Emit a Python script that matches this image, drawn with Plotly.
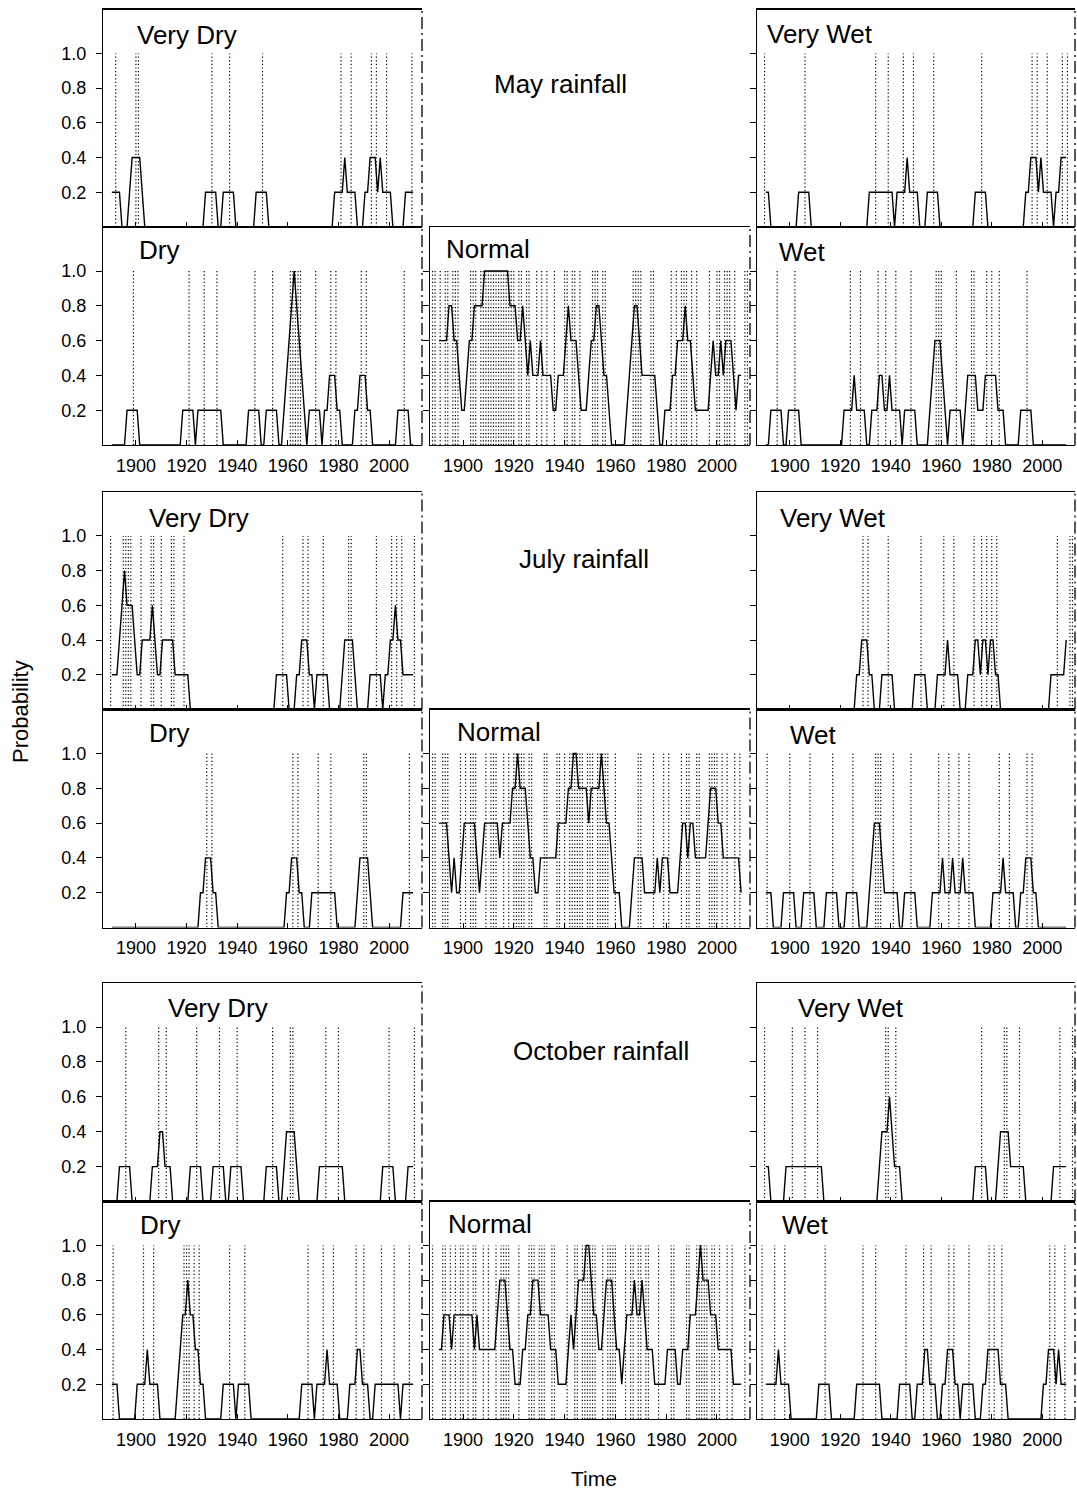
import plotly.graph_objects as go

FONT = "Liberation Sans, Arial, Helvetica, sans-serif"
W, H = 1077, 1493

# ------------------------------------------------------------------ data
TICK_YEARS = [1900, 1920, 1940, 1960, 1980, 2000]
PROB_TICKS = [0.2, 0.4, 0.6, 0.8, 1.0]
PROB_TICK_TEXT = ["0.2", "0.4", "0.6", "0.8", "1.0"]
MA_YEARS = list(range(1891, 2011))

# ---------------- May
MAY_VD_EVENTS = [1892, 1900, 1901, 1930, 1937, 1950, 1981, 1985, 1993, 1995, 1999, 2009]
MAY_VD_YRS = [1891, 1894, 1895, 1897, 1899, 1902, 1904, 1927, 1928, 1932, 1933, 1934, 1935, 1939, 1940,
              1947, 1948, 1952, 1953, 1978, 1979, 1982, 1983, 1984, 1987, 1988, 1990, 1991, 1992, 1993,
              1995, 1996, 1997, 1998, 2001, 2002, 2006, 2007, 2010]
MAY_VD_P = [.2, .2, 0, 0, .4, .4, 0, 0, .2, .2, 0, 0, .2, .2, 0,
            0, .2, .2, 0, 0, .2, .2, .4, .2, .2, 0, 0, .2, .2, .4,
            .4, .2, .4, .2, .2, 0, 0, .2, .2]

MAY_VW_EVENTS = [1890, 1906, 1934, 1939, 1945, 1949, 1957, 1976, 1996, 1998, 2002, 2008, 2010]
MAY_VW_YRS = [1891, 1892, 1893, 1903, 1904, 1908, 1909, 1931, 1932, 1941, 1942, 1943, 1946, 1947, 1948,
              1951, 1952, 1954, 1955, 1959, 1960, 1973, 1974, 1978, 1979, 1993, 1994, 1995, 1996, 1998,
              1999, 2000, 2001, 2004, 2005, 2006, 2007, 2008, 2010]
MAY_VW_P = [.2, .2, 0, 0, .2, .2, 0, 0, .2, .2, 0, .2, .2, .4, .2,
            .2, 0, 0, .2, .2, 0, 0, .2, .2, 0, 0, .2, .2, .4, .4,
            .2, .4, .2, .2, 0, .2, .2, .4, .4]

MAY_D_EVENTS = [1899, 1921, 1927, 1932, 1947, 1954, 1961, 1962, 1963, 1964, 1965, 1971, 1977, 1979,
                1989, 1991, 2006]
MAY_D_YRS = [1891, 1896, 1897, 1901, 1902, 1918, 1919, 1923, 1924, 1925, 1934, 1935, 1944, 1945, 1949,
             1950, 1951, 1952, 1956, 1957, 1958, 1963, 1968, 1969, 1973, 1974, 1975, 1976, 1977, 1979,
             1980, 1981, 1982, 1986, 1987, 1988, 1989, 1991, 1992, 1993, 1994, 2003, 2004, 2008, 2009,
             2010]
MAY_D_P = [0, 0, .2, .2, 0, 0, .2, .2, 0, .2, .2, 0, 0, .2, .2,
           0, 0, .2, .2, 0, 0, 1.0, 0, .2, .2, 0, .2, .2, .4, .4,
           .2, .2, 0, 0, .2, .2, .4, .4, .2, .2, 0, 0, .2, .2, 0,
           0]

MAY_W_EVENTS = [1895, 1902, 1924, 1928, 1935, 1938, 1942, 1948, 1958, 1959, 1960, 1966, 1972, 1973,
                1978, 1980, 1983, 1994]
MAY_W_YRS = [1891, 1892, 1893, 1897, 1898, 1899, 1900, 1904, 1905, 1921, 1922, 1925, 1926, 1927, 1930,
             1931, 1932, 1933, 1935, 1936, 1937, 1938, 1939, 1940, 1941, 1944, 1945, 1946, 1950, 1951,
             1955, 1958, 1960, 1963, 1964, 1968, 1969, 1970, 1971, 1974, 1975, 1977, 1978, 1982, 1983,
             1985, 1986, 1991, 1992, 1996, 1997, 2010]
MAY_W_P = [0, 0, .2, .2, 0, 0, .2, .2, 0, 0, .2, .2, .4, .2, .2,
           0, 0, .2, .2, .4, .4, .2, .2, .4, .2, .2, 0, .2, .2, 0,
           0, .6, .6, 0, .2, .2, 0, .2, .4, .4, .2, .2, .4, .4, .2,
           .2, 0, 0, .2, .2, 0, 0]

MAY_N_EVENTS = [1888, 1889, 1891, 1893, 1894, 1896, 1897, 1898, 1903, 1904, 1905, 1907, 1908, 1909,
                1910, 1911, 1912, 1913, 1914, 1915, 1916, 1917, 1918, 1919, 1920, 1922, 1923, 1925,
                1926, 1929, 1931, 1933, 1936, 1940, 1941, 1943, 1944, 1946, 1951, 1952, 1953, 1955,
                1956, 1967, 1968, 1969, 1970, 1974, 1975, 1982, 1984, 1986, 1987, 1988, 1990, 1992,
                1997, 2000, 2001, 2003, 2004, 2005, 2007, 2011, 2012]
MAY_N_P = [.6, .6, .6, .6, .8, .8, .6, .6, .4, .2,
           .2, .4, .6, .6, .8, .8, .8, .8, 1, 1,
           1, 1, 1, 1, 1, 1, 1, 1, .8, .8,
           .8, .6, .6, .8, .6, .4, .6, .4, .4, .4,
           .6, .4, .4, .4, .4, .2, .2, .4, .4, .4,
           .6, .8, .6, .6, .6, .4, .2, .2, .2, .4,
           .6, .6, .8, .8, .6, .4, .4, .2, 0, 0,
           0, 0, 0, 0, .2, .4, .6, .8, .8, .6,
           .4, .4, .4, .4, .4, .4, .2, 0, 0, .2,
           .2, .2, .4, .4, .6, .6, .6, .8, .6, .6,
           .4, .2, .2, .2, .2, .2, .2, .4, .6, .4,
           .4, .6, .4, .6, .6, .6, .4, .2, .4, .4]

# ---------------- July
JUL_VD_EVENTS = [1890, 1895, 1896, 1897, 1898, 1902, 1906, 1907, 1910, 1914, 1915, 1919, 1958, 1966,
                 1968, 1974, 1984, 1985, 1995, 2001, 2003, 2005, 2010]
JUL_VD_YRS = [1891, 1893, 1896, 1897, 1899, 1901, 1902, 1903, 1906, 1907, 1908, 1909, 1910, 1911, 1915,
              1916, 1921, 1922, 1955, 1956, 1960, 1961, 1963, 1964, 1965, 1966, 1968, 1969, 1970, 1971,
              1972, 1976, 1977, 1981, 1983, 1986, 1988, 1992, 1993, 1997, 1998, 1999, 2000, 2001, 2002,
              2003, 2004, 2005, 2006, 2010]
JUL_VD_P = [.2, .2, .8, .6, .6, .2, .2, .4, .4, .6, .4, .2, .2, .4, .4,
            .2, .2, 0, 0, .2, .2, 0, 0, .2, .2, .4, .4, .2, .2, 0,
            .2, .2, 0, 0, .4, .4, 0, 0, .2, .2, 0, .2, .2, .4, .4,
            .6, .4, .4, .2, .2]

JUL_VW_EVENTS = [1929, 1931, 1939, 1952, 1961, 1965, 1973, 1976, 1978, 1980, 1982, 2006, 2011, 2012]
JUL_VW_YRS = [1891, 1926, 1927, 1928, 1929, 1931, 1932, 1933, 1934, 1936, 1937, 1941, 1942, 1949, 1950,
              1954, 1955, 1958, 1959, 1962, 1963, 1964, 1967, 1968, 1970, 1971, 1973, 1974, 1975, 1976,
              1977, 1978, 1979, 1980, 1981, 1982, 1983, 1984, 2003, 2004, 2009, 2010]
JUL_VW_P = [0, 0, .2, .2, .4, .4, .2, .2, 0, 0, .2, .2, 0, 0, .2,
            .2, 0, 0, .2, .2, .4, .2, .2, 0, 0, .2, .2, .4, .4, .2,
            .4, .4, .2, .4, .4, .2, .2, 0, 0, .2, .2, .4]

JUL_D_EVENTS = [1928, 1930, 1962, 1964, 1972, 1977, 1990, 1991, 2008]
JUL_D_YRS = [1891, 1925, 1926, 1927, 1928, 1930, 1931, 1932, 1933, 1959, 1960, 1961, 1962, 1964, 1965,
             1966, 1967, 1969, 1970, 1979, 1980, 1987, 1988, 1989, 1992, 1993, 1994, 2005, 2006, 2010]
JUL_D_P = [0, 0, .2, .2, .4, .4, .2, .2, 0, 0, .2, .2, .4, .4, .2,
           .2, 0, 0, .2, .2, 0, 0, .2, .4, .4, .2, 0, 0, .2, .2]

JUL_W_EVENTS = [1891, 1900, 1908, 1917, 1925, 1934, 1935, 1936, 1941, 1948, 1959, 1963, 1967, 1971,
                1983, 1987, 1994, 1996]
JUL_W_YRS = [1891, 1893, 1894, 1897, 1898, 1902, 1903, 1905, 1906, 1910, 1911, 1914, 1915, 1919, 1920,
             1922, 1923, 1927, 1928, 1931, 1934, 1936, 1938, 1943, 1944, 1945, 1946, 1950, 1951, 1956,
             1957, 1960, 1961, 1962, 1964, 1965, 1966, 1968, 1969, 1970, 1973, 1974, 1980, 1981, 1984,
             1985, 1986, 1989, 1990, 1991, 1992, 1993, 1994, 1996, 1997, 1998, 1999, 2010]
JUL_W_P = [.2, .2, 0, 0, .2, .2, 0, 0, .2, .2, 0, 0, .2, .2, 0,
           0, .2, .2, 0, 0, .6, .6, .2, .2, 0, 0, .2, .2, 0, 0,
           .2, .2, .4, .2, .2, .4, .2, .2, .4, .2, .2, 0, 0, .2, .2,
           .4, .2, .2, 0, 0, .2, .2, .4, .4, .2, .2, 0, 0]

JUL_N_EVENTS = [1888, 1889, 1892, 1893, 1894, 1899, 1901, 1903, 1904, 1905, 1909, 1911, 1912, 1913,
                1916, 1918, 1920, 1921, 1922, 1923, 1924, 1926, 1927, 1932, 1933, 1937, 1938, 1940,
                1942, 1943, 1944, 1945, 1946, 1947, 1949, 1950, 1951, 1953, 1954, 1955, 1956, 1957,
                1960, 1969, 1970, 1975, 1979, 1981, 1986, 1988, 1989, 1992, 1993, 1997, 1998, 1999,
                2000, 2002, 2004, 2007, 2009]
JUL_N_P = [.6, .6, .6, .6, .4, .2, .4, .2, .2, .4,
           .6, .6, .6, .6, .6, .4, .2, .4, .6, .6,
           .6, .6, .6, .6, .4, .6, .6, .6, .6, .8,
           .8, 1, .8, .8, .8, .6, .4, .4, .2, .2,
           .4, .4, .4, .4, .4, .4, .4, .6, .6, .6,
           .6, .8, .8, 1, 1, .8, .8, .8, .8, .6,
           .8, .8, .8, .8, 1, .8, .6, .6, .4, .2,
           .2, .2, 0, 0, 0, 0, .2, .4, .4, .4,
           .4, .2, .2, .2, .2, .2, .4, .2, .4, .4,
           .4, .2, .2, .2, .2, .4, .6, .6, .4, .6,
           .6, .4, .4, .4, .4, .4, .6, .8, .8, .8,
           .6, .6, .4, .4, .4, .4, .4, .4, .4, .2]

# ---------------- October
OCT_VD_EVENTS = [1896, 1909, 1912, 1924, 1933, 1940, 1954, 1961, 1962, 1975, 1980, 2000, 2010]
OCT_VD_YRS = [1891, 1893, 1894, 1898, 1899, 1906, 1907, 1909, 1910, 1911, 1912, 1914, 1915, 1921, 1922,
              1926, 1927, 1930, 1931, 1935, 1936, 1937, 1938, 1942, 1943, 1951, 1952, 1956, 1957, 1958,
              1959, 1960, 1963, 1964, 1965, 1972, 1973, 1982, 1983, 1997, 1998, 2002, 2003, 2007, 2008,
              2010]
OCT_VD_P = [0, 0, .2, .2, 0, 0, .2, .2, .4, .4, .2, .2, 0, 0, .2,
            .2, 0, 0, .2, .2, 0, 0, .2, .2, 0, 0, .2, .2, 0, 0,
            .2, .4, .4, .2, 0, 0, .2, .2, 0, 0, .2, .2, 0, 0, .2,
            .2]

OCT_VW_EVENTS = [1890, 1901, 1906, 1911, 1938, 1939, 1942, 1976, 1985, 1986, 1991, 2007, 2012]
OCT_VW_YRS = [1891, 1892, 1893, 1898, 1899, 1913, 1914, 1935, 1937, 1939, 1940, 1941, 1942, 1944, 1945,
              1973, 1974, 1978, 1979, 1982, 1984, 1987, 1988, 1993, 1994, 2004, 2005, 2010]
OCT_VW_P = [.2, .2, 0, 0, .2, .2, 0, 0, .4, .4, .6, .4, .2, .2, 0,
            0, .2, .2, 0, 0, .4, .4, .2, .2, 0, 0, .2, .2]

OCT_D_EVENTS = [1891, 1903, 1907, 1919, 1920, 1921, 1923, 1925, 1937, 1943, 1968, 1974, 1978, 1987,
                1990, 1997, 2002, 2008]
OCT_D_YRS = [1891, 1893, 1894, 1900, 1901, 1904, 1905, 1906, 1909, 1910, 1916, 1917, 1918, 1919, 1920,
             1921, 1922, 1923, 1924, 1925, 1926, 1927, 1928, 1934, 1935, 1939, 1940, 1941, 1945, 1946,
             1965, 1966, 1970, 1971, 1972, 1975, 1976, 1977, 1980, 1981, 1984, 1985, 1987, 1988, 1989,
             1990, 1992, 1993, 1994, 1995, 2004, 2005, 2006, 2010]
OCT_D_P = [.2, .2, 0, 0, .2, .2, .4, .2, .2, 0, 0, .2, .4, .6, .6,
           .8, .6, .6, .4, .4, .2, .2, 0, 0, .2, .2, 0, .2, .2, 0,
           0, .2, .2, 0, .2, .2, .4, .2, .2, 0, 0, .2, .2, .4, .4,
           .2, .2, 0, 0, .2, .2, 0, .2, .2]

OCT_W_EVENTS = [1889, 1894, 1898, 1914, 1929, 1934, 1946, 1953, 1956, 1963, 1965, 1971, 1979, 1981,
                1984, 2003, 2005, 2009]
OCT_W_YRS = [1891, 1895, 1896, 1897, 1900, 1901, 1911, 1912, 1916, 1917, 1926, 1927, 1936, 1937, 1943,
             1944, 1948, 1949, 1950, 1951, 1953, 1954, 1955, 1956, 1958, 1959, 1960, 1961, 1962, 1963,
             1965, 1966, 1967, 1968, 1969, 1973, 1974, 1976, 1977, 1978, 1979, 1983, 1984, 1986, 1987,
             2000, 2001, 2002, 2003, 2005, 2006, 2007, 2008, 2010]
OCT_W_P = [.2, .2, .4, .2, .2, 0, 0, .2, .2, 0, 0, .2, .2, 0, 0,
           .2, .2, 0, 0, .2, .2, .4, .4, .2, .2, 0, 0, .2, .2, .4,
           .4, .2, .2, 0, .2, .2, 0, 0, .2, .2, .4, .4, .2, .2, 0,
           0, .2, .2, .4, .4, .2, .4, .2, .2]

OCT_N_EVENTS = [1888, 1892, 1893, 1895, 1897, 1899, 1900, 1902, 1904, 1905, 1908, 1910, 1913, 1915,
                1916, 1917, 1918, 1922, 1926, 1927, 1928, 1930, 1931, 1932, 1935, 1936, 1941, 1944,
                1945, 1947, 1948, 1949, 1950, 1951, 1952, 1955, 1957, 1958, 1959, 1960, 1964, 1966,
                1967, 1969, 1970, 1972, 1973, 1977, 1982, 1983, 1988, 1989, 1992, 1993, 1994, 1995,
                1996, 1998, 1999, 2001, 2004, 2006, 2011]
OCT_N_P = [.4, .4, .6, .6, .6, .4, .6, .6, .6, .6,
           .6, .6, .6, .6, .4, .6, .4, .4, .4, .4,
           .4, .4, .4, .6, .8, .8, .8, .6, .4, .4,
           .2, .2, .2, .4, .4, .6, .6, .8, .8, .8,
           .6, .6, .6, .6, .4, .4, .4, .2, .2, .2,
           .2, .4, .6, .4, .6, .8, .8, .8, 1, 1,
           .8, .6, .6, .4, .4, .6, .8, .8, .8, .6,
           .4, .4, .2, .4, .6, .6, .6, .8, .6, .6,
           .8, .6, .4, .4, .4, .2, .2, .2, .2, .2,
           .4, .4, .4, .4, .2, .2, .4, .4, .4, .6,
           .6, .6, .8, 1, .8, .8, .8, .6, .6, .6,
           .4, .4, .4, .4, .4, .4, .2, .2, .2, .2]

MONTH_TITLES = ["May rainfall", "July rainfall", "October rainfall"]

# ------------------------------------------------------------------ layout spec (window pixels)
X_RANGE = [1887, 2013]
Y_RANGE = [0, 1.253]
LINE_SHIFT = -0.5
COL_PX = [(103, 422), (430, 750), (757, 1075)]
ROW_PX = [(9.5, 227), (227, 445), (492, 709.5), (709.5, 927.5), (983, 1201.5), (1201.5, 1419)]

# (group, row-in-group, col, label, events, years, probs, label x, label y)
PANELS = [
    (0, 0, 0, "Very Dry", MAY_VD_EVENTS, MAY_VD_YRS, MAY_VD_P, 135, 35),
    (0, 0, 2, "Very Wet", MAY_VW_EVENTS, MAY_VW_YRS, MAY_VW_P, 765, 34),
    (0, 1, 0, "Dry", MAY_D_EVENTS, MAY_D_YRS, MAY_D_P, 137, 250),
    (0, 1, 1, "Normal", MAY_N_EVENTS, MA_YEARS, MAY_N_P, 444, 249),
    (0, 1, 2, "Wet", MAY_W_EVENTS, MAY_W_YRS, MAY_W_P, 777, 252),
    (1, 0, 0, "Very Dry", JUL_VD_EVENTS, JUL_VD_YRS, JUL_VD_P, 147, 518),
    (1, 0, 2, "Very Wet", JUL_VW_EVENTS, JUL_VW_YRS, JUL_VW_P, 778, 518),
    (1, 1, 0, "Dry", JUL_D_EVENTS, JUL_D_YRS, JUL_D_P, 147, 733),
    (1, 1, 1, "Normal", JUL_N_EVENTS, MA_YEARS, JUL_N_P, 455, 732),
    (1, 1, 2, "Wet", JUL_W_EVENTS, JUL_W_YRS, JUL_W_P, 788, 735),
    (2, 0, 0, "Very Dry", OCT_VD_EVENTS, OCT_VD_YRS, OCT_VD_P, 166, 1008),
    (2, 0, 2, "Very Wet", OCT_VW_EVENTS, OCT_VW_YRS, OCT_VW_P, 796, 1008),
    (2, 1, 0, "Dry", OCT_D_EVENTS, OCT_D_YRS, OCT_D_P, 138, 1225),
    (2, 1, 1, "Normal", OCT_N_EVENTS, MA_YEARS, OCT_N_P, 446, 1224),
    (2, 1, 2, "Wet", OCT_W_EVENTS, OCT_W_YRS, OCT_W_P, 780, 1225),
]
MONTH_TITLE_POS = [(560, 84), (584, 559), (601, 1051)]


def fx(px):
    return px / W


def fy(py):
    return 1 - py / H


fig = go.Figure()
layout = dict(
    width=W, height=H, margin=dict(l=0, r=0, t=0, b=0, pad=0),
    paper_bgcolor="white", plot_bgcolor="white", showlegend=False,
    font=dict(family=FONT, color="black"),
)
shapes = []
annotations = []

for i, (g, r, c, label, events, yrs, probs, lx, ly) in enumerate(PANELS, start=1):
    sfx = "" if i == 1 else str(i)
    xr, yr = "x" + sfx, "y" + sfx
    row = ROW_PX[g * 2 + r]
    col = COL_PX[c]
    bottom_row = (r == 1)
    layout["xaxis" + sfx] = dict(
        domain=[fx(col[0]), fx(col[1])], range=X_RANGE, anchor=yr,
        showline=True, mirror=True, linecolor="black", linewidth=1.2,
        ticks="inside", ticklen=5, tickwidth=1, tickcolor="black",
        tickvals=TICK_YEARS, ticktext=[str(t) for t in TICK_YEARS],
        showticklabels=bottom_row, tickfont=dict(size=18, family=FONT, color="black"),
        ticklabelstandoff=4,
        showgrid=False, zeroline=False, fixedrange=True,
    )
    layout["yaxis" + sfx] = dict(
        domain=[fy(row[1]), fy(row[0])], range=Y_RANGE, anchor=xr,
        showline=True, mirror=False, linecolor="black", linewidth=1.2,
        ticks="outside", ticklen=6, tickwidth=1, tickcolor="black",
        tickvals=PROB_TICKS, ticktext=PROB_TICK_TEXT,
        showticklabels=(c == 0), tickfont=dict(size=18, family=FONT, color="black"),
        ticklabelstandoff=6,
        showgrid=False, zeroline=False, fixedrange=True,
    )
    # dotted vertical lines at the years in which the category occurred
    ex, ey = [], []
    for e in events:
        ex += [e, e, None]
        ey += [0, 1.0, None]
    fig.add_trace(go.Scatter(
        x=ex, y=ey, xaxis=xr, yaxis=yr, mode="lines",
        line=dict(color="black", width=1.2, dash="1.2px,2.4px"), hoverinfo="skip"))
    # probability line
    fig.add_trace(go.Scatter(
        x=[y + LINE_SHIFT for y in yrs], y=probs, xaxis=xr, yaxis=yr, mode="lines",
        line=dict(color="black", width=1.4), hoverinfo="skip"))
    # dash-dot right edge
    shapes.append(dict(
        type="line", xref=xr + " domain", yref=yr + " domain",
        x0=1, x1=1, y0=0, y1=1,
        line=dict(color="black", width=1.3, dash="12px,4px,2px,4px")))
    annotations.append(dict(
        text=label, x=fx(lx), y=fy(ly), xref="paper", yref="paper",
        xanchor="left", yanchor="middle", showarrow=False,
        font=dict(size=26, family=FONT, color="black")))

for title, (tx, ty) in zip(MONTH_TITLES, MONTH_TITLE_POS):
    annotations.append(dict(
        text=title, x=fx(tx), y=fy(ty), xref="paper", yref="paper",
        xanchor="center", yanchor="middle", showarrow=False,
        font=dict(size=26, family=FONT, color="black")))

annotations.append(dict(
    text="Probability", x=fx(21), y=fy(712), xref="paper", yref="paper",
    xanchor="center", yanchor="middle", textangle=-90, showarrow=False,
    font=dict(size=22, family=FONT, color="black")))
annotations.append(dict(
    text="Time", x=fx(594), y=fy(1478), xref="paper", yref="paper",
    xanchor="center", yanchor="middle", showarrow=False,
    font=dict(size=21, family=FONT, color="black")))

layout["shapes"] = shapes
layout["annotations"] = annotations
fig.update_layout(**layout)

# the page's default body margin would push the 1077x1493 figure off the window
fig.write_html("out.html",
               config={"displayModeBar": False, "staticPlot": True},
               post_script="document.body.style.margin='0';document.body.style.overflow='hidden';")
